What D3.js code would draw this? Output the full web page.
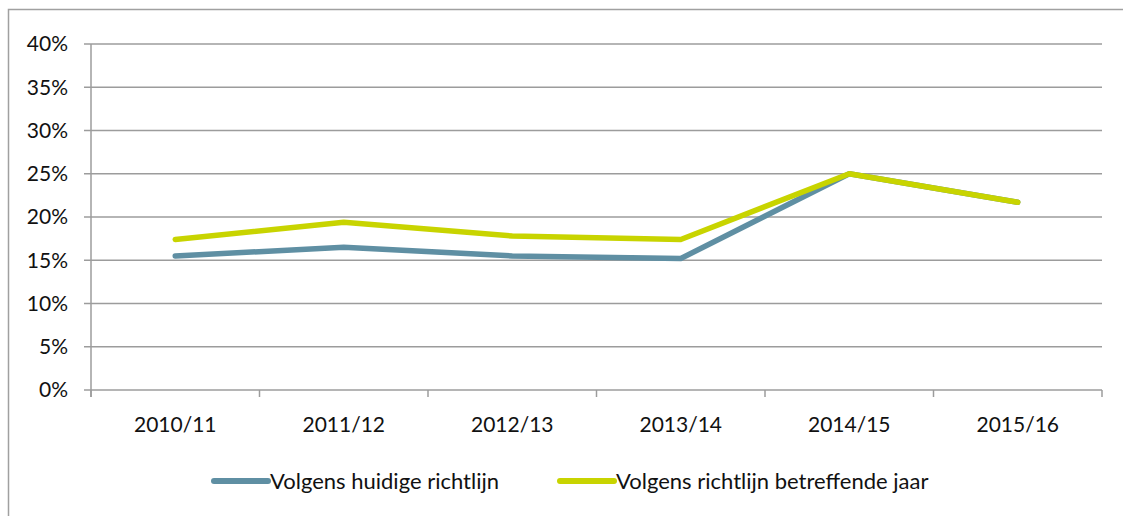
<!DOCTYPE html>
<html>
<head>
<meta charset="utf-8">
<script src="https://cdn.jsdelivr.net/npm/d3@7"></script>
<style>
  body { margin: 0; background: #fff; }
  svg { display: block; font-family: Lato, "Open Sans", sans-serif; }
</style>
</head>
<body>
<div id="chart"></div>
<script>
// chart data
var categories = ["2010/11", "2011/12", "2012/13", "2013/14", "2014/15", "2015/16"];
var seriesNames = ["Volgens huidige richtlijn", "Volgens richtlijn betreffende jaar"];
var huidige = [15.5, 16.5, 15.5, 15.2, 25.0, 21.7];
var betreffende = [17.4, 19.4, 17.8, 17.4, 25.0, 21.7];
var yTicks = [0, 5, 10, 15, 20, 25, 30, 35, 40];
var colors = ["#5f8fa3", "#c8d400"];

var svgWidth = 1123;
var svgHeight = 516;

var margin = { top: 44, right: 21, bottom: 126, left: 91 };
var width = svgWidth - margin.left - margin.right;
var height = svgHeight - margin.top - margin.bottom;

var svg = d3
  .select("#chart")
  .append("svg")
  .attr("width", svgWidth)
  .attr("height", svgHeight);

// outer frame (left and top edges only visible)
svg
  .append("path")
  .attr("d", "M8.5,600 L8.5,9.5 L1200,9.5")
  .attr("fill", "none")
  .attr("stroke", "#a0a0a0")
  .attr("stroke-width", 1.5);

var chartGroup = svg
  .append("g")
  .attr("transform", `translate(${margin.left}, ${margin.top})`);

var xBand = d3.scaleBand().domain(categories).range([0, width]);
var yScale = d3.scaleLinear().domain([0, 40]).range([height, 0]);

// gridlines + y ticks
chartGroup
  .selectAll("line.grid")
  .data(yTicks)
  .enter()
  .append("line")
  .attr("class", "grid")
  .attr("x1", -7)
  .attr("x2", width)
  .attr("y1", (d) => yScale(d))
  .attr("y2", (d) => yScale(d))
  .attr("stroke", "#9c9c9c")
  .attr("stroke-width", 1.5);

// y axis line
chartGroup
  .append("line")
  .attr("x1", 0)
  .attr("x2", 0)
  .attr("y1", 0)
  .attr("y2", height + 7)
  .attr("stroke", "#9c9c9c")
  .attr("stroke-width", 1.5);

// x ticks at band boundaries
var bounds = categories.map((c) => xBand(c)).concat([width]);
chartGroup
  .selectAll("line.xtick")
  .data(bounds)
  .enter()
  .append("line")
  .attr("class", "xtick")
  .attr("x1", (d) => d)
  .attr("x2", (d) => d)
  .attr("y1", height)
  .attr("y2", height + 7)
  .attr("stroke", "#9c9c9c")
  .attr("stroke-width", 1.5);

// y labels
chartGroup
  .selectAll("text.ylab")
  .data(yTicks)
  .enter()
  .append("text")
  .attr("class", "ylab")
  .attr("x", -23)
  .attr("y", (d) => yScale(d))
  .attr("dy", "0.35em")
  .style("text-anchor", "end")
  .style("font-size", "21px")
  .attr("fill", "#111")
  .text((d) => d + "%");

// x labels
chartGroup
  .selectAll("text.xlab")
  .data(categories)
  .enter()
  .append("text")
  .attr("class", "xlab")
  .attr("x", (d) => xBand(d) + xBand.bandwidth() / 2)
  .attr("y", height + 35)
  .attr("dy", "0.35em")
  .style("text-anchor", "middle")
  .style("font-size", "21px")
  .attr("fill", "#111")
  .text((d) => d);

// lines
var line = d3
  .line()
  .x((d, i) => xBand(categories[i]) + xBand.bandwidth() / 2)
  .y((d) => yScale(d));

[huidige, betreffende].forEach(function (vals, i) {
  chartGroup
    .append("path")
    .datum(vals)
    .attr("d", line)
    .attr("fill", "none")
    .attr("stroke", colors[i])
    .attr("stroke-width", 5.5)
    .attr("stroke-linecap", "round")
    .attr("stroke-linejoin", "round");
});

// legend
var legendX = [214, 560];
var legend = svg
  .selectAll("g.legend")
  .data(seriesNames)
  .enter()
  .append("g")
  .attr("class", "legend")
  .attr("transform", (d, i) => `translate(${legendX[i]}, 481)`);

legend
  .append("line")
  .attr("x1", 0)
  .attr("x2", 54)
  .attr("stroke", (d, i) => colors[i])
  .attr("stroke-width", 6)
  .attr("stroke-linecap", "round");

legend
  .append("text")
  .attr("x", 56)
  .attr("dy", "0.35em")
  .style("font-size", "22px")
  .attr("fill", "#111")
  .text((d) => d);
</script>
</body>
</html>
